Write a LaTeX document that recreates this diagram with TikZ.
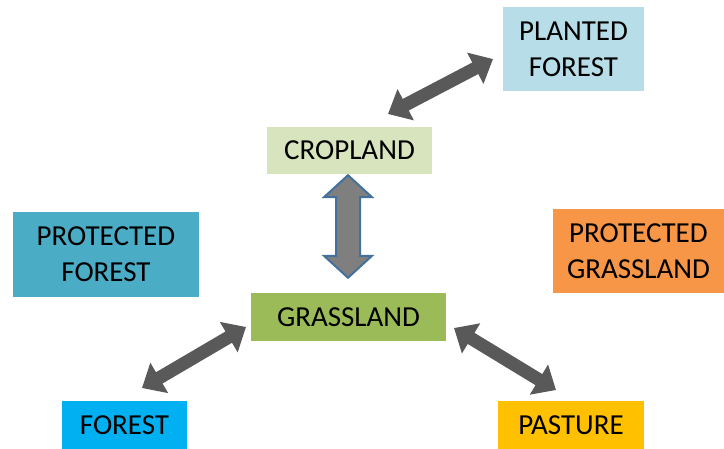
\documentclass[tikz,border=0pt]{standalone}
\usepackage{fontspec}
\setmainfont{Carlito}
\usetikzlibrary{arrows.meta,calc}
\definecolor{cPlanted}{HTML}{B7DEE8}
\definecolor{cCrop}{HTML}{D7E4BD}
\definecolor{cPForest}{HTML}{4BACC6}
\definecolor{cPGrass}{HTML}{F79646}
\definecolor{cGrass}{HTML}{9BBB59}
\definecolor{cForest}{HTML}{00B0F0}
\definecolor{cPasture}{HTML}{FFC000}
\definecolor{cArrow}{HTML}{595959}
\definecolor{cVFill}{HTML}{7F7F7F}
\definecolor{cVLine}{HTML}{41719C}
\tikzset{
  box/.style={rectangle, inner sep=0pt, align=center, font=\fontsize{29}{36}\selectfont, text=black},
  darr/.style={draw=cArrow, line width=13pt, {Triangle[width=34pt,length=20pt]}-{Triangle[width=34pt,length=20pt]}},
  varr/.style={fill=cVFill, draw=cVLine, line width=2pt, line join=miter}
}
\begin{document}
\begin{tikzpicture}[x=1pt,y=-1pt]
\path[use as bounding box, clip] (0,0) rectangle (724,448);
\fill[white] (0,0) rectangle (724,448);
\node[box, fill=cPlanted, minimum width=141pt, minimum height=84pt] (planted) at (573.5,49) {PLANTED\\FOREST};
\node[box, fill=cCrop, minimum width=165pt, minimum height=47pt] (crop) at (349.5,150.5) {CROPLAND};
\node[box, fill=cPForest, minimum width=186pt, minimum height=85pt] (pforest) at (106,254.5) {PROTECTED\\FOREST};
\node[box, fill=cPGrass, minimum width=171pt, minimum height=84pt] (pgrass) at (638.5,251) {PROTECTED\\GRASSLAND};
\node[box, fill=cGrass, minimum width=195pt, minimum height=48pt] (grass) at (348.5,317) {GRASSLAND};
\node[box, fill=cForest, minimum width=125pt, minimum height=48pt] (forest) at (124.5,425) {FOREST};
\node[box, fill=cPasture, minimum width=146pt, minimum height=48pt] (pasture) at (571,425) {PASTURE};
% arrow end points
\coordinate (cpA) at (388,114);
\coordinate (cpB) at (493,59);
\coordinate (gfA) at (246,327);
\coordinate (gfB) at (142,388);
\coordinate (gpA) at (454,328);
\coordinate (gpB) at (556,390);
\draw[darr] (cpA) -- (cpB);
\draw[darr] (gfA) -- (gfB);
\draw[darr] (gpA) -- (gpB);
% vertical block arrow between crop and grass
\coordinate (vt) at ($(crop.south)+(-1.5,1)$);
\coordinate (vb) at ($(grass.north)+(-0.5,-15)$);
\draw[varr] (vt) -- ++(24,22) -- ++(-12,0) |- ($(vb)+(12,-22)$) -- ++(12,0) -- (vb) -- ++(-24,-22) -- ++(12,0) |- ($(vt)+(-12,22)$) -- ++(-12,0) -- cycle;
\end{tikzpicture}
\end{document}
